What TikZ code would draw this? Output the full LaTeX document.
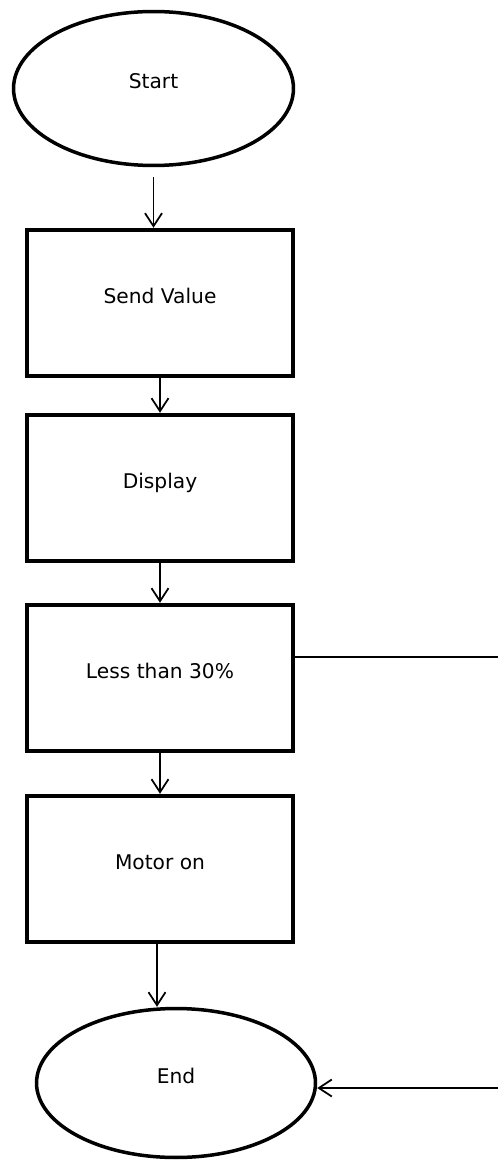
\documentclass[tikz,border=0pt]{standalone}
\usepackage{fontspec}
\setmainfont{DejaVu Sans}
\usetikzlibrary{shapes.geometric,arrows.meta}

\begin{document}
\begin{tikzpicture}[x=0.02cm,y=-0.02cm,
  every node/.style={font=\fontsize{11.5}{13}\selectfont,text height=0.3cm,text depth=0.3cm},
  terminal/.style={ellipse,draw,line width=0.07cm,inner sep=0pt},
  stepbox/.style={rectangle,draw,line width=0.09cm,minimum width=5.32cm,minimum height=2.92cm},
  arr/.style={line width=0.035cm,-{Straight Barb[length=0.26cm,width=0.34cm]}}]

\useasboundingbox (0,0) rectangle (498,1162);

\node[terminal,minimum width=5.6cm,minimum height=3.08cm] (start) at (153.5,88.5) {Start};
\node[stepbox] (send) at (160,303) {Send Value};
\node[stepbox] (display) at (160,488) {Display};
\node[stepbox] (less) at (160,678) {Less than 30\%};
\node[stepbox] (motor) at (160,869) {Motor on};
\node[terminal,minimum width=5.58cm,minimum height=2.98cm] (end) at (176,1083) {End};

\coordinate (right1) at (498,657);
\coordinate (right2) at (498,1088);

\draw[arr,shorten <=0.2cm] (start.south) -- (start.south |- send.north);
\draw[arr] (send) -- (display);
\draw[arr] (display) -- (less);
\draw[arr] (less) -- (motor);
\draw[arr] ([xshift=-0.06cm]motor.south) -- ([xshift=-0.06cm]motor.south |- end.north);

\draw[line width=0.035cm] (right1 -| less.east) -- (right1);
\draw[arr] (right2) -- (right2 -| end.east);

\end{tikzpicture}
\end{document}
